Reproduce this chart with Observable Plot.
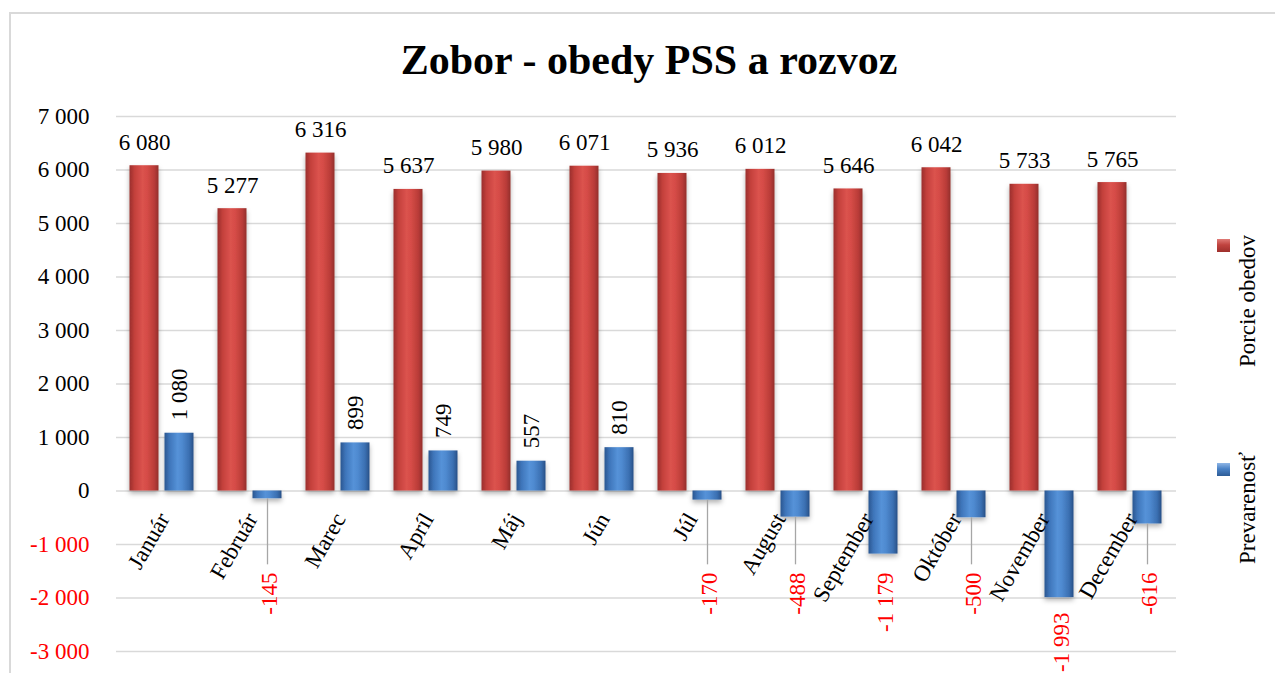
<!DOCTYPE html>
<html><head><meta charset="utf-8">
<script src="https://cdn.jsdelivr.net/npm/d3@7"></script>
<script src="https://cdn.jsdelivr.net/npm/@observablehq/plot@0.6"></script>
<style>
body{margin:0;background:#fff;}
#wrap{position:relative;width:1275px;height:673px;overflow:hidden;background:#fff;font-family:"Liberation Serif","Times New Roman",serif;}
#frame{position:absolute;left:9px;top:12px;width:1300px;height:700px;border-left:2px solid #d9d9d9;border-top:2px solid #d9d9d9;}
#chart{position:absolute;left:0;top:0;}
#title{position:absolute;left:649px;top:39px;transform:translateX(-50%);font-weight:bold;font-size:42px;line-height:42px;white-space:nowrap;color:#000;}
.lg{position:absolute;font-size:23px;line-height:23px;white-space:nowrap;transform:translate(-50%,-50%) rotate(-90deg);color:#000;font-family:"Liberation Serif",serif;}
.sw{position:absolute;width:13px;height:13px;}
</style></head>
<body>
<div id="wrap">
  <div id="frame"></div>
  <div id="chart"></div>
  <div id="title">Zobor - obedy PSS a rozvoz</div>
  <div class="sw" style="left:1217px;top:239px;background:linear-gradient(180deg,#e07b77,#c0433f 45%,#9e2f2c);"></div>
  <div class="lg" style="left:1247px;top:301px;">Porcie obedov</div>
  <div class="sw" style="left:1217px;top:463px;background:linear-gradient(180deg,#8fb6e6,#4a82c6 45%,#2d5c96);"></div>
  <div class="lg" style="left:1247px;top:508px;">Prevarenosť</div>
</div>
<script>
const months = ["Január","Február","Marec","Apríl","Máj","Jún","Júl","August","September","Október","November","December"];
const porcie = [6080, 5277, 6316, 5637, 5980, 6071, 5936, 6012, 5646, 6042, 5733, 5765];
const prevarenost = [1080, -145, 899, 749, 557, 810, -170, -488, -1179, -500, -1993, -616];
const yTicks = [-3000, -2000, -1000, 0, 1000, 2000, 3000, 4000, 5000, 6000, 7000];

const data = months.map((m, i) => ({month: m, porcie: porcie[i], prev: prevarenost[i]}));
const fmt = d3.formatLocale({decimal: ",", thousands: " ", grouping: [3], currency: ["", ""], minus: "-"}).format(",d");
const OFF = 17.5;
const FS = 23;
const FF = "Liberation Serif, serif";

const plot = Plot.plot({
  width: 1275, height: 673,
  marginLeft: 116, marginRight: 99, marginTop: 116, marginBottom: 22,
  style: {background: "transparent", overflow: "visible", fontFamily: FF, color: "#000"},
  x: {domain: months, paddingInner: 0.666, paddingOuter: 0.333, axis: null},
  y: {domain: [-3000, 7000], axis: null},
  marks: [
    Plot.ruleY(yTicks, {y: d => d, stroke: "#d9d9d9", strokeWidth: 1.5}),
    Plot.text(yTicks.filter(d => d >= 0), {y: d => d, frameAnchor: "left", dx: -27, textAnchor: "end", text: d => fmt(d), fontSize: FS, fontFamily: FF, fill: "#000"}),
    Plot.text(yTicks.filter(d => d < 0), {y: d => d, frameAnchor: "left", dx: -27, textAnchor: "end", text: d => fmt(d), fontSize: FS, fontFamily: FF, fill: "#ff0000"}),
    Plot.barY(data, {x: "month", y: "porcie", dx: -OFF, fill: "url(#gRed)"}),
    Plot.barY(data, {x: "month", y: "prev", dx: OFF, fill: "url(#gBlue)"}),
    Plot.ruleX(data.filter(d => d.prev < 0 && d.prev > -1000), {x: "month", y1: "prev", y2: () => -1380, dx: OFF, stroke: "#a6a6a6", strokeWidth: 1.3}),
    Plot.text(data, {x: "month", y: "porcie", dx: -OFF, dy: -16, text: d => fmt(d.porcie), lineAnchor: "bottom", fontSize: FS, fontFamily: FF, fill: "#000"}),
    Plot.text(data.filter(d => d.prev >= 0), {x: "month", y: "prev", dx: OFF, dy: -13, rotate: -90, textAnchor: "start", text: d => fmt(d.prev), fontSize: FS, fontFamily: FF, fill: "#000"}),
    Plot.text(data.filter(d => d.prev < 0), {x: "month", y: d => Math.min(d.prev - 280, -1523), dx: OFF + 2, rotate: -90, textAnchor: "end", text: d => fmt(d.prev), fontSize: FS, fontFamily: FF, fill: "#ff0000"}),
    Plot.text(months, {x: d => d, y: () => 0, dx: 2, dy: 24, rotate: -60, textAnchor: "end", text: d => d, fontSize: FS, fontFamily: FF, fill: "#000"})
  ]
});

const svg = d3.select(plot);
const defs = svg.insert("defs", ":first-child");
function grad(id, stops) {
  const g = defs.append("linearGradient").attr("id", id).attr("x1", "0%").attr("x2", "100%").attr("y1", "0%").attr("y2", "0%");
  stops.forEach(([o, c]) => g.append("stop").attr("offset", o).attr("stop-color", c));
}
grad("gRed", [["0%", "#9a302d"], ["18%", "#c4403c"], ["45%", "#db534e"], ["60%", "#d64c47"], ["85%", "#ba3c38"], ["100%", "#93302c"]]);
grad("gBlue", [["0%", "#2b5690"], ["18%", "#3f76bb"], ["45%", "#5592d8"], ["60%", "#4f8ad0"], ["85%", "#3a6fb1"], ["100%", "#284f86"]]);
const f = defs.append("filter").attr("id", "sh").attr("x", "-30%").attr("y", "-10%").attr("width", "160%").attr("height", "130%");
f.append("feDropShadow").attr("dx", 0).attr("dy", 3).attr("stdDeviation", 2.5).attr("flood-color", "#000").attr("flood-opacity", 0.3);
svg.selectAll('g[aria-label="bar"]').attr("filter", "url(#sh)");

document.getElementById("chart").appendChild(plot);
</script>
</body></html>
